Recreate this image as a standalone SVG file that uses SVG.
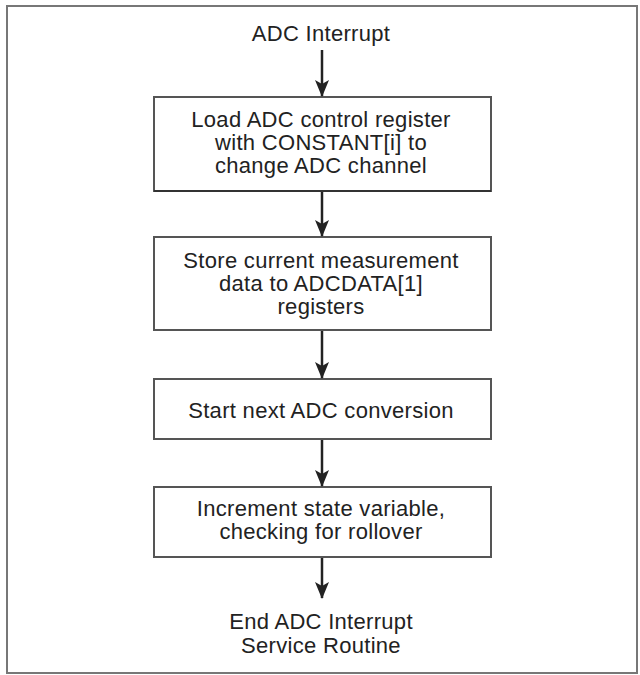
<svg xmlns="http://www.w3.org/2000/svg" width="640" height="675" viewBox="0 0 640 675">
  <style>
    .frame { fill: #ffffff; stroke: #777777; stroke-width: 2; }
    .box { fill: #ffffff; stroke: #555555; stroke-width: 2; }
    .shadow { stroke: #333333; stroke-width: 2; }
    .t { font-family: "Liberation Sans", Arial, sans-serif; font-size: 22px; letter-spacing: 0.3px; fill: #222222; text-anchor: middle; }
    .conn { stroke: #222222; stroke-width: 2.5; fill: none; marker-end: url(#arrow); }
  </style>
  <defs>
    <marker id="arrow" markerUnits="userSpaceOnUse" markerWidth="17" markerHeight="14" refX="16" refY="7" orient="auto" viewBox="0 0 17 14">
      <path d="M0,0 L4,7 L0,14 L17,7 Z" fill="#222222"/>
    </marker>
  </defs>
  <rect class="frame" x="7" y="6" width="630" height="667"/>

  <g id="start">
    <text class="t" x="321" y="41">ADC Interrupt</text>
  </g>

  <g id="box1">
    <rect class="box" x="154" y="97" width="337" height="94"/>
    <line class="shadow" x1="154" y1="191" x2="491" y2="191"/>
    <text class="t" x="321" y="127">Load ADC control register</text>
    <text class="t" x="321" y="150">with CONSTANT[i] to</text>
    <text class="t" x="321" y="173">change ADC channel</text>
  </g>

  <g id="box2">
    <rect class="box" x="154" y="237" width="337" height="93"/>
    <text class="t" x="321" y="268">Store current measurement</text>
    <text class="t" x="321" y="291">data to ADCDATA[1]</text>
    <text class="t" x="321" y="314">registers</text>
  </g>

  <g id="box3">
    <rect class="box" x="154" y="379" width="337" height="60"/>
    <text class="t" x="321" y="418">Start next ADC conversion</text>
  </g>

  <g id="box4">
    <rect class="box" x="154" y="487" width="337" height="70"/>
    <text class="t" x="321" y="516">Increment state variable,</text>
    <text class="t" x="321" y="539">checking for rollover</text>
  </g>

  <g id="end">
    <text class="t" x="321" y="629">End ADC Interrupt</text>
    <text class="t" x="321" y="653">Service Routine</text>
  </g>

  <g id="connectors">
    <line class="conn" x1="322" y1="50" x2="322" y2="96"/>
    <line class="conn" x1="322" y1="192" x2="322" y2="236"/>
    <line class="conn" x1="322" y1="331" x2="322" y2="378"/>
    <line class="conn" x1="322" y1="440" x2="322" y2="486"/>
    <line class="conn" x1="322" y1="558" x2="322" y2="598"/>
  </g>
</svg>
